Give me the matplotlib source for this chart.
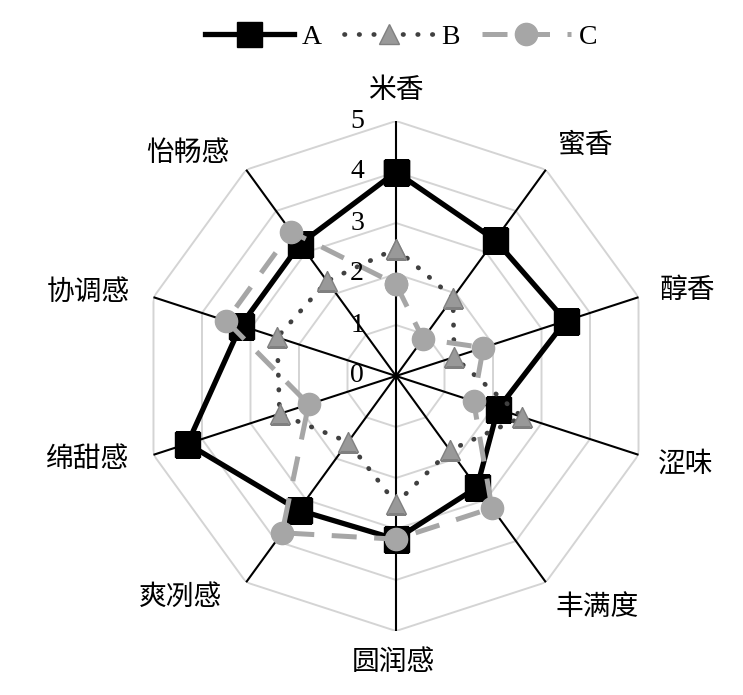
import numpy as np
import matplotlib
matplotlib.use("Agg")
import matplotlib.pyplot as plt

cn_font = ['Noto Sans CJK SC', 'DejaVu Sans']
num_font = ['Liberation Serif', 'DejaVu Serif']

labels = ['米香', '蜜香', '醇香', '涩味', '丰满度', '圆润感', '爽冽感', '绵甜感', '协调感', '怡畅感']
series_names = ['A', 'B', 'C']
vals_a = [4.0, 3.3, 3.5, 2.1, 2.7, 3.2, 3.25, 4.3, 3.2, 3.2]
vals_b = [2.5, 1.9, 1.2, 2.6, 1.8, 2.5, 1.6, 2.4, 2.45, 2.3]
vals_c = [1.8, 0.9, 1.8, 1.6, 3.2, 3.2, 3.8, 1.8, 3.5, 3.5]
rings = [1, 2, 3, 4, 5]
tick_labels = ['0', '1', '2', '3', '4', '5']

# label offsets from the outer vertex, in pixels (x right, y up)
label_off = [(0, 31), (39, 25), (49, 7), (47, -9), (51, -25),
             (-3, -31), (-66, -15), (-66, -4), (-65, 5), (-58, 17)]

n = len(labels)
ang = np.linspace(0, 2 * np.pi, n, endpoint=False)
ang_c = np.append(ang, ang[0])

def closed(v):
    return np.append(v, v[0])

fig = plt.figure(figsize=(7.43, 6.95), dpi=100)
ax = fig.add_axes([141 / 743, (695 - 376 - 255) / 695, 510 / 743, 510 / 695], projection='polar')
ax.set_theta_zero_location('N')
ax.set_theta_direction(-1)
ax.set_ylim(0, 5)
ax.grid(False)
ax.set_xticks([])
ax.set_yticks([])
ax.spines['polar'].set_visible(False)
ax.patch.set_visible(False)

for r in rings:
    ax.plot(ang_c, [r] * (n + 1), color='#d4d4d4', lw=1.4, zorder=1)
for a in ang:
    ax.plot([a, a], [0, 5], color='black', lw=1.5, zorder=2)

pt = 0.72
ax.plot(ang_c, closed(vals_a), color='black', lw=3.8, marker='s', ms=18,
        mfc='black', mec='black', label=series_names[0], zorder=5)
ax.plot(ang_c, closed(vals_b), color='#404040', lw=3.4, ls=(0, (0.1, 3.0)),
        dash_capstyle='round', marker='^', ms=15, mfc='#999999', mec='#808080',
        label=series_names[1], zorder=6)
ax.plot(ang_c, closed(vals_c), color='#a6a6a6', lw=3.6, ls=(0, (5, 3.5)),
        marker='o', ms=16, mfc='#a6a6a6', mec='#a6a6a6', label=series_names[2], zorder=7)

for i, t in enumerate(tick_labels):
    ax.annotate(t, xy=(0, i), xytext=(-32 * pt, 0), textcoords='offset points',
                ha='right', va='center', fontsize=20, family=num_font, zorder=8)

for lab, a, (dx, dy) in zip(labels, ang, label_off):
    ax.annotate(lab, xy=(a, 5), xytext=(dx * pt, dy * pt), textcoords='offset points',
                ha='center', va='center', fontsize=20, family=cn_font)

leg = fig.legend(loc='center', bbox_to_anchor=(0.54, 0.947), ncol=3, frameon=False,
                 handlelength=3.2, columnspacing=0.8, handletextpad=0.3,
                 prop={'family': num_font, 'size': 20})

fig.savefig('out.png', dpi=100)
